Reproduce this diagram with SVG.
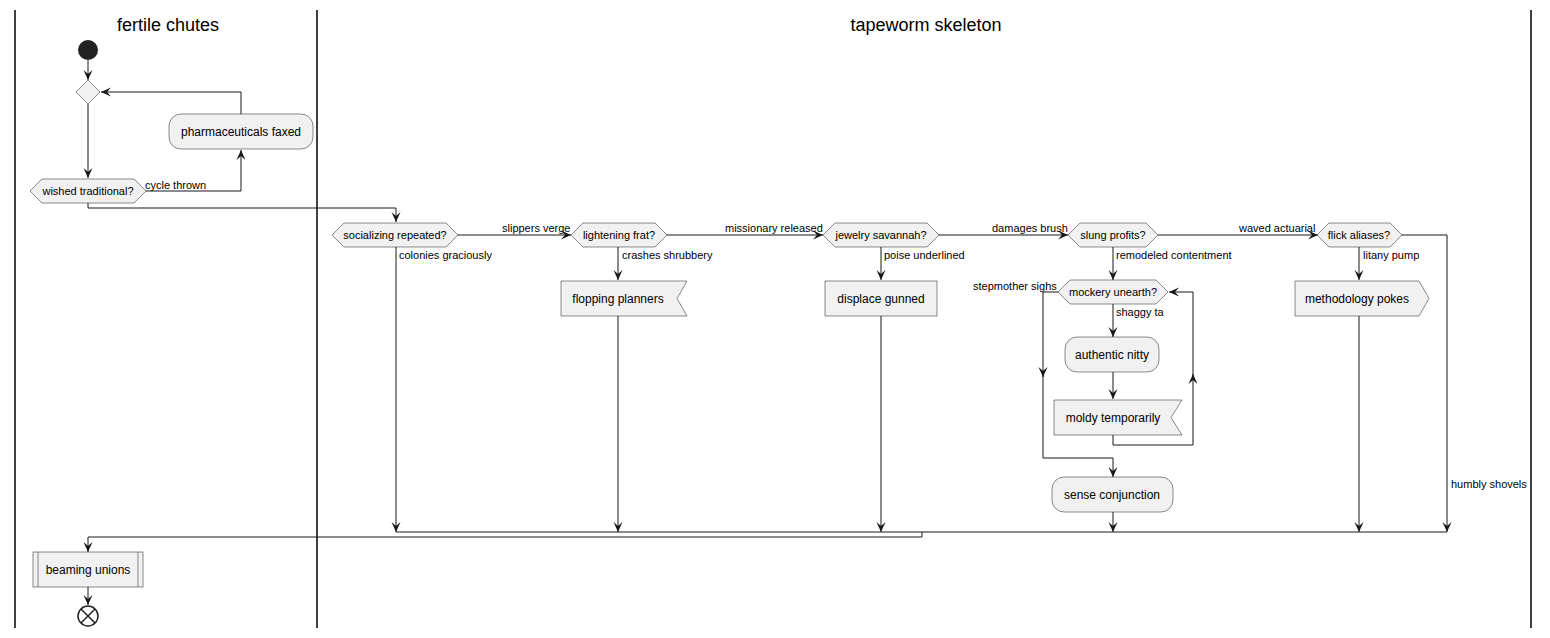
<svg xmlns="http://www.w3.org/2000/svg" width="1550" height="638" viewBox="0 0 1550 638">
<defs>
<style>
text{font-family:"Liberation Sans",Arial,sans-serif;fill:#000}
.title{font-size:18px;text-anchor:middle}
.lbl{font-size:11px}
.node{fill:#F1F1F1;stroke:#181818;stroke-width:0.5}
.nt{font-size:12px;text-anchor:middle}
.ht{font-size:11px;text-anchor:middle}
.ln{fill:none;stroke:#181818;stroke-width:1}
.lane{stroke:#000;stroke-width:1.5}
</style>
<marker id="a" viewBox="0 0 10 10" refX="10" refY="5" markerWidth="10" markerHeight="10" orient="auto" markerUnits="userSpaceOnUse">
<path d="M0,0.5 L10,5 L0,9.5 L4,5 Z" fill="#181818"/>
</marker>
</defs>
<rect width="1550" height="638" fill="#fff"/>
<g id="lanes">
<line class="lane" x1="15" y1="10" x2="15" y2="628"/>
<line class="lane" x1="317" y1="10" x2="317" y2="628"/>
<line class="lane" x1="1531" y1="10" x2="1531" y2="628"/>
<text class="title" x="168" y="31">fertile chutes</text>
<text class="title" x="926" y="31">tapeworm skeleton</text>
</g>
<g id="connectors">
<path class="ln" d="M88,60 V80" marker-end="url(#a)"/>
<path class="ln" d="M88,104 V178" marker-end="url(#a)"/>
<path class="ln" d="M146,191 H241 V150" marker-end="url(#a)"/>
<path class="ln" d="M241,114 V92 H101" marker-end="url(#a)"/>
<path class="ln" d="M88,203 V208 H396 V222" marker-end="url(#a)"/>
<path class="ln" d="M458,235 H571" marker-end="url(#a)"/>
<path class="ln" d="M667,235 H823" marker-end="url(#a)"/>
<path class="ln" d="M939,235 H1068" marker-end="url(#a)"/>
<path class="ln" d="M1158,235 H1318" marker-end="url(#a)"/>
<path class="ln" d="M396,247 V532" marker-end="url(#a)"/>
<path class="ln" d="M618,247 V280" marker-end="url(#a)"/>
<path class="ln" d="M618,316 V532" marker-end="url(#a)"/>
<path class="ln" d="M881,247 V280" marker-end="url(#a)"/>
<path class="ln" d="M881,316 V532" marker-end="url(#a)"/>
<path class="ln" d="M1113,247 V280" marker-end="url(#a)"/>
<path class="ln" d="M1113,304 V337" marker-end="url(#a)"/>
<path class="ln" d="M1113,372 V399" marker-end="url(#a)"/>
<path class="ln" d="M1113,435 V445 H1193 V374" marker-end="url(#a)"/>
<path class="ln" d="M1193,376 V292 H1169" marker-end="url(#a)"/>
<path class="ln" d="M1058,292 H1043 V377" marker-end="url(#a)"/>
<path class="ln" d="M1043,375 V458 H1113 V477" marker-end="url(#a)"/>
<path class="ln" d="M1113,512 V532" marker-end="url(#a)"/>
<path class="ln" d="M1359,247 V280" marker-end="url(#a)"/>
<path class="ln" d="M1359,316 V532" marker-end="url(#a)"/>
<path class="ln" d="M1402,235 H1447 V532" marker-end="url(#a)"/>
<path class="ln" d="M396,532 H1447"/>
<path class="ln" d="M922,532 V537 H88 V552" marker-end="url(#a)"/>
<path class="ln" d="M88,587 V605" marker-end="url(#a)"/>
<text class="lbl" x="145" y="189">cycle thrown</text>
<text class="lbl" x="399" y="259">colonies graciously</text>
<text class="lbl" x="502" y="232">slippers verge</text>
<text class="lbl" x="622" y="259">crashes shrubbery</text>
<text class="lbl" x="725" y="232">missionary released</text>
<text class="lbl" x="884" y="259">poise underlined</text>
<text class="lbl" x="992" y="232">damages brush</text>
<text class="lbl" x="1116" y="259">remodeled contentment</text>
<text class="lbl" x="973" y="290">stepmother sighs</text>
<text class="lbl" x="1116" y="316">shaggy ta</text>
<text class="lbl" x="1239" y="232">waved actuarial</text>
<text class="lbl" x="1363" y="259">litany pump</text>
<text class="lbl" x="1451" y="488">humbly shovels</text>
</g>
<g id="start"><circle cx="88" cy="50" r="10" fill="#222"/></g>
<g id="merge1"><polygon class="node" points="88,80 100,92 88,104 76,92"/></g>
<g id="pharma"><rect class="node" x="169" y="114" width="144" height="35" rx="12"/><text class="nt" x="241" y="136">pharmaceuticals faxed</text></g>
<g id="wished"><polygon class="node" points="30,191 42,179 134,179 146,191 134,203 42,203"/><text class="ht" x="88" y="195">wished traditional?</text></g>
<g id="socializing"><polygon class="node" points="332,235 344,223 446,223 458,235 446,247 344,247"/><text class="ht" x="395" y="239">socializing repeated?</text></g>
<g id="lightening"><polygon class="node" points="571,235 583,223 655,223 667,235 655,247 583,247"/><text class="ht" x="619" y="239">lightening frat?</text></g>
<g id="flopping"><polygon class="node" points="561,281 687,281 677,298.5 687,316 561,316"/><text class="nt" x="618" y="303">flopping planners</text></g>
<g id="jewelry"><polygon class="node" points="823,235 835,223 927,223 939,235 927,247 835,247"/><text class="ht" x="881" y="239">jewelry savannah?</text></g>
<g id="displace"><rect class="node" x="825" y="281" width="112" height="35"/><text class="nt" x="881" y="303">displace gunned</text></g>
<g id="slung"><polygon class="node" points="1068,235 1080,223 1146,223 1158,235 1146,247 1080,247"/><text class="ht" x="1113" y="239">slung profits?</text></g>
<g id="mockery"><polygon class="node" points="1058,292 1070,280 1156,280 1168,292 1156,304 1070,304"/><text class="ht" x="1113" y="296">mockery unearth?</text></g>
<g id="authentic"><rect class="node" x="1065" y="337" width="94" height="35" rx="12"/><text class="nt" x="1112" y="359">authentic nitty</text></g>
<g id="moldy"><polygon class="node" points="1054,400 1182,400 1171,417.5 1182,435 1054,435"/><text class="nt" x="1113" y="422">moldy temporarily</text></g>
<g id="sense"><rect class="node" x="1052" y="477" width="121" height="35" rx="12"/><text class="nt" x="1112" y="499">sense conjunction</text></g>
<g id="flick"><polygon class="node" points="1317,235 1329,223 1390,223 1402,235 1390,247 1329,247"/><text class="ht" x="1359" y="239">flick aliases?</text></g>
<g id="methodology"><polygon class="node" points="1295,281 1419,281 1429,298.5 1419,316 1295,316"/><text class="nt" x="1357" y="303">methodology pokes</text></g>
<g id="beaming"><rect class="node" x="33" y="552" width="110" height="35"/><line x1="38" y1="552" x2="38" y2="587" stroke="#181818" stroke-width="0.5"/><line x1="138" y1="552" x2="138" y2="587" stroke="#181818" stroke-width="0.5"/><text class="nt" x="88" y="574">beaming unions</text></g>
<g id="end"><circle cx="88" cy="616" r="10" fill="#fff" stroke="#222" stroke-width="1.5"/><path d="M81,609 L95,623 M95,609 L81,623" stroke="#222" stroke-width="1.5"/></g>
</svg>
